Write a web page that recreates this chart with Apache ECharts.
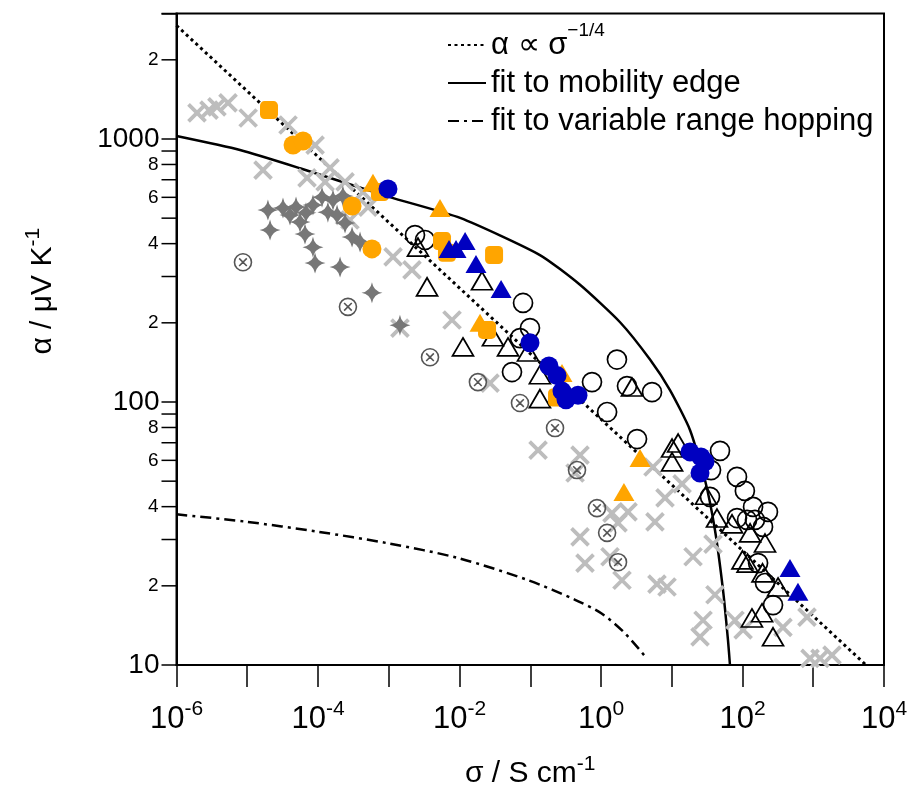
<!DOCTYPE html>
<html><head><meta charset="utf-8">
<script src="https://cdn.jsdelivr.net/npm/echarts@6/dist/echarts.min.js"></script>
<style>html,body{margin:0;padding:0;background:#fff}#c{width:909px;height:789px}</style>
</head><body><div id="c"></div>
<script>
// ---------------- data (sigma in S/cm, alpha in uV/K) ----------------
const greyCrosses = [[1.95e-6,1256],[2.88e-6,1288],[3.73e-6,1324],[5.35e-6,1371],[1.03e-5,1202],[3.77e-5,1130],[9.1e-5,948],[1.67e-5,762],[7.0e-5,711],[1.26e-4,687],[1.48e-4,777],[2.41e-4,687],[4.32e-4,628],[5.09e-4,551],[2.83e-4,492],[1.15e-3,356],[2.13e-3,318],[1.44e-3,191],[7.84e-3,205],[2.70e-2,118],[0.129,65.6],[0.505,62.8],[0.430,53.7],[0.505,30.7],[0.594,24.4],[1.34,25.8],[1.43,37.8],[1.74,34.7],[2.41,38.2],[1.98,21.0],[5.79,35.0],[6.18,20.3],[8.57,19.8],[5.43,56.6],[8.03,43.2],[14.0,48.8],[20.0,25.8],[38.3,28.8],[40.8,18.5],[27.7,14.8],[25.1,12.8],[78.3,14.8],[102,13.6],[373,13.9],[816,15.2],[900,10.6],[1245,10.6],[1840,10.9]];
const darkStars = [[1.96e-5,537],[3.20e-5,547],[2.10e-5,451],[4.89e-5,551],[5.57e-5,483],[6.76e-5,524],[8.49e-5,561],[1.14e-4,601],[1.63e-4,586],[1.38e-4,527],[1.86e-4,514],[2.25e-4,607],[2.41e-4,479],[3.03e-4,424],[6.55e-5,435],[8.49e-5,388],[9.08e-5,338],[2.05e-4,326],[3.93e-4,406],[5.79e-4,260],[1.44e-3,196],[4.02e-5,514]];
const circledCrosses = [[8.7e-6,340],[2.65e-4,230],[3.83e-3,148],[1.82e-2,119],[7.16e-2,99.1],[0.224,79.6],[0.458,55.1],[0.877,39.5],[1.22,31.8],[1.74,24.6]];
const orangeSquares = [[2.03e-5,1288],[7.51e-4,628],[5.66e-3,409],[6.65e-3,369],[3.08e-2,362],[2.45e-2,188],[0.239,104]];
const orangeCircles = [[4.44e-5,948],[6.14e-5,982],[3.03e-4,556],[5.79e-4,382]];
const orangeTriangles = [[5.98e-4,681],[5.30e-3,547],[1.95e-2,200],[0.281,129],[3.56,61.2],[2.11,45.5]];
const blueCircles = [[9.75e-4,646],[9.91e-2,168],[0.184,137],[0.239,126],[0.281,110],[0.320,102],[0.473,106],[18.1,64.6],[25.9,61.8],[29.5,59.2],[25.1,53.7]];
const blueTriangles = [[7.11e-3,382],[8.93e-3,382],[1.20e-2,409],[1.71e-2,335],[3.87e-2,269],[469,23.4],[608,19.0]];
const openCircles = [[2.35e-3,431],[3.25e-3,413],[7.91e-2,238],[9.91e-2,191],[7.16e-2,175],[5.52e-2,130],[0.746,119],[1.68,145],[2.33,115],[5.26,109],[1.22,91.6],[3.23,72.3],[48.1,65.2],[35.9,55.1],[83.6,51.9],[108,45.9],[34.7,43.6],[141,39.9],[229,38.2],[83.6,36.2],[116,35.6],[150,35.6],[195,33.5],[166,24.4],[208,20.5],[270,16.9]];
const openTriangles = [[2.59e-3,388],[3.48e-3,274],[2.08e-2,289],[1.12e-2,162],[2.97e-2,177],[4.85e-2,162],[9.29e-2,155],[0.137,127],[0.137,103],[2.74,114],[10.1,66.8],[12.3,69.8],[10.1,59.2],[30.5,44.2],[43.6,36.2],[71.1,34.4],[128,31.8],[208,29.1],[100,25.1],[118,24.4],[192,22.4],[318,19.8],[136,15.1],[189,15.8],[270,12.8]];

// fit curves
const powerLawLine = [[1e-6,2700],[5570,10]];
const mobilityEdgeFit = [[1e-6,1026],[7.9e-6,908],[5.57e-5,774],[1.04e-3,601],[1.02e-2,501],[0.137,362],[0.505,279],[1.86,201],[4.93,145],[9.44,111],[18.1,78.3],[29.5,50.5],[40.8,32.6],[53.0,19.3],[62.4,12.4],[66.5,10]];
const vrhFit = [[1e-6,37.4],[9.3e-6,35.1],[1.01e-4,32.1],[9.9e-4,29.0],[9.6e-3,25.5],[9.4e-2,21.0],[0.43,17.7],[1.02,15.7],[2.18,13.2],[4.43,10.6]];

// axis ticks
const xMin = 1e-6, xMax = 1e4, yMin = 10, yMax = 3000;
const yMinorTicks = [20,30,40,50,60,70,80,90,200,300,400,500,600,700,800,900,2000,3000];
const yMinorLabels = [20,40,60,80,200,400,600,800,2000];
const legendNames = ['powerLaw','mobilityEdge','vrh'];
const legendTexts = {powerLaw:'{t|α ∝ σ}{s|−1/4}', mobilityEdge:'fit to mobility edge', vrh:'fit to variable range hopping'};

// ---------------- chart ----------------
const FONT = "'Liberation Sans', Arial, Helvetica, sans-serif";
const chart = echarts.init(document.getElementById('c'), null, {renderer:'canvas', width:909, height:789});

function scatter(name, data, symbol, size, itemStyle){
  itemStyle.opacity = 1;
  return {type:'scatter', name, data, symbol, symbolSize:size, itemStyle, clip:false, silent:true, z:3, emphasis:{disabled:true}, animation:false};
}
const none = 'rgba(0,0,0,0)';
const CROSS = 'path://M-1,-1L1,1M1,-1L-1,1';
const STAR = 'path://M0,-10Q1.4,-1.4,10,0Q1.4,1.4,0,10Q-1.4,1.4,-10,0Q-1.4,-1.4,0,-10Z';
const OTIMES = 'path://M10,0A10,10,0,1,1,-10,0A10,10,0,1,1,10,0ZM-4.5,-4.5L4.5,4.5M4.5,-4.5L-4.5,4.5';

const option = {
  animation:false,
  backgroundColor:'#fff',
  textStyle:{fontFamily:FONT, color:'#000'},
  grid:{left:176.5, right:25, top:13.5, bottom:124, show:true, borderColor:'#000', borderWidth:2, backgroundColor:'transparent', containLabel:false, outerBoundsMode:'none'},
  xAxis:{
    type:'log', logBase:10, min:xMin, max:xMax, interval:1,
    name:'{t|σ / S cm}{s|-1}', nameLocation:'middle', nameGap:89,
    nameTextStyle:{rich:{t:{fontSize:30, lineHeight:40, fontFamily:FONT, color:'#000'}, s:{fontSize:21, lineHeight:6, verticalAlign:'top', fontFamily:FONT, color:'#000'}}},
    axisLine:{show:true, onZero:false, lineStyle:{color:'#000', width:2}},
    axisTick:{show:true, inside:false, length:22, lineStyle:{color:'#000', width:1.5}},
    minorTick:{show:false}, splitLine:{show:false}, minorSplitLine:{show:false},
    axisLabel:{show:true, interval:0, hideOverlap:false, margin:34, color:'#000',
      formatter:v=>{const e=Math.round(Math.log10(v)); return e%2===0?('{b|10}{s|'+e+'}'):'';},
      rich:{b:{fontSize:31, lineHeight:40, fontFamily:FONT, color:'#000'}, s:{fontSize:21, lineHeight:4, verticalAlign:'top', fontFamily:FONT, color:'#000'}}}
  },
  yAxis:{
    type:'log', logBase:10, min:yMin, max:yMax, interval:1,
    name:'{t|α / μV K}{s|-1}', nameLocation:'middle', nameGap:114, nameRotate:90,
    nameTextStyle:{padding:[0,0,0,96], rich:{t:{fontSize:30, lineHeight:40, fontFamily:FONT, color:'#000'}, s:{fontSize:21, lineHeight:6, verticalAlign:'top', fontFamily:FONT, color:'#000'}}},
    axisLine:{show:true, onZero:false, lineStyle:{color:'#000', width:2}},
    axisTick:{show:true, inside:false, length:15, lineStyle:{color:'#000', width:1.5},
      interval:(i,v)=>{const l=Math.log10(v); return Math.abs(l-Math.round(l))<1e-6;}},
    minorTick:{show:false}, splitLine:{show:false}, minorSplitLine:{show:false},
    axisLabel:{show:true, interval:0, hideOverlap:false, margin:17, color:'#000', fontSize:28, fontFamily:FONT,
      formatter:v=>{const l=Math.log10(v); return Math.abs(l-Math.round(l))<1e-6?String(Math.round(v)):'';}}
  },
  legend:{
    show:true, orient:'vertical', left:447, top:21, padding:0, itemGap:-10, itemWidth:38, itemHeight:14,
    selectedMode:false, data:legendNames, formatter:n=>legendTexts[n],
    itemStyle:{color:none, borderWidth:0, opacity:0},
    textStyle:{fontSize:31, lineHeight:48, color:'#000', fontFamily:FONT,
      rich:{t:{fontSize:31, lineHeight:48, fontFamily:FONT, color:'#000'}, s:{fontSize:19, lineHeight:6, verticalAlign:'top', fontFamily:FONT, color:'#000'}}}
  },
  tooltip:{show:false},
  series:[
    {type:'line', name:'powerLaw', data:powerLawLine, symbol:'none', showSymbol:false, itemStyle:{color:none}, lineStyle:{color:'#000', width:3, type:[3,3.5], cap:'butt'}, z:2, silent:true, animation:false},
    {type:'line', name:'mobilityEdge', data:mobilityEdgeFit, symbol:'none', showSymbol:false, smooth:0.2, itemStyle:{color:none}, lineStyle:{color:'#000', width:2.5}, z:2, silent:true, animation:false},
    {type:'line', name:'vrh', data:vrhFit, symbol:'none', showSymbol:false, smooth:0.3, itemStyle:{color:none}, lineStyle:{color:'#000', width:2.5, type:[11,5,3,5]}, z:2, silent:true, animation:false},
    scatter('grey crosses', greyCrosses, CROSS, 17, {color:none, borderColor:'#bdbdbd', borderWidth:3.8}),
    scatter('dark stars', darkStars, STAR, 21, {color:'#777777'}),
    scatter('circled crosses', circledCrosses, OTIMES, 17, {color:none, borderColor:'#555555', borderWidth:1.6}),
    scatter('open triangles', openTriangles, 'triangle', [21,18], {color:none, borderColor:'#000', borderWidth:1.7}),
    scatter('open circles', openCircles, 'circle', 19, {color:none, borderColor:'#000', borderWidth:1.7}),
    scatter('orange squares', orangeSquares, 'roundRect', 18, {color:'#ffa500'}),
    scatter('orange circles', orangeCircles, 'circle', 19, {color:'#ffa500'}),
    scatter('orange triangles', orangeTriangles, 'triangle', [21,18], {color:'#ffa500'}),
    scatter('blue triangles', blueTriangles, 'triangle', [21,18], {color:'#0000c0'}),
    scatter('blue circles', blueCircles, 'circle', 19, {color:'#0000c0'}),
    {type:'custom', name:'yMinorTicks', coordinateSystem:'cartesian2d', silent:true, clip:false, z:5, animation:false,
      data:yMinorTicks.map(v=>[xMin, v]),
      renderItem:(params, api)=>{
        const v = api.value(1);
        const p = api.coord([api.value(0), v]);
        const children = [{type:'line', shape:{x1:p[0]-15, y1:p[1], x2:p[0], y2:p[1]}, style:{stroke:'#000', lineWidth:1.5}}];
        if (yMinorLabels.indexOf(v) >= 0) {
          const lead = Math.round(v / Math.pow(10, Math.floor(Math.log10(v)+1e-9)));
          children.push({type:'text', x:p[0]-18, y:p[1], style:{text:String(lead), fontSize:19, fontFamily:FONT, fill:'#000', align:'right', verticalAlign:'middle'}});
        }
        return {type:'group', children};
      }}
  ]
};
chart.setOption(option);
</script></body></html>
